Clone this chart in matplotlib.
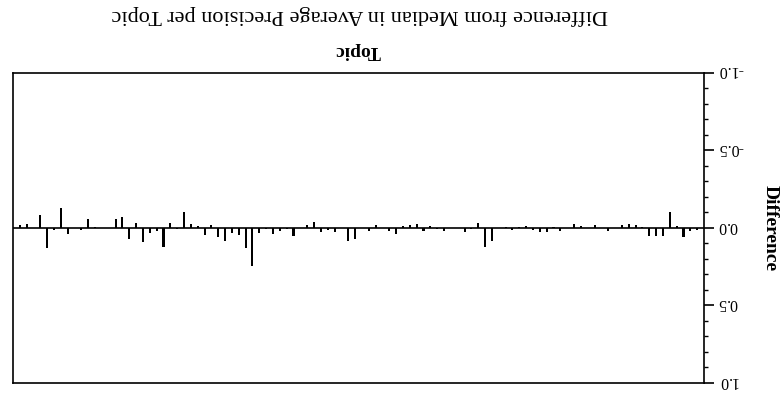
import matplotlib
matplotlib.use("Agg")
import matplotlib.pyplot as plt
from matplotlib.ticker import MultipleLocator, FormatStrFormatter

plt.rcParams["font.family"] = ["Liberation Serif", "DejaVu Serif"]
plt.rcParams["axes.unicode_minus"] = False

# difference from median AP, topics 1..100
topics = list(range(1, 101))
diffs = [
    0.017, 0.022, 0.058, -0.009, -0.103, 0.052, 0.052, 0.052, -0.004, -0.017,
    -0.021, -0.017, 0.0, 0.022, 0.0, -0.017, 0.0, -0.012, -0.026, 0.0,
    0.023, -0.003, 0.030, 0.030, 0.014, -0.009, -0.003, 0.015, -0.004, 0.0,
    0.084, 0.125, -0.029, 0.005, 0.030, 0.0, 0.0, 0.020, 0.009, -0.014,
    0.024, -0.027, -0.018, -0.011, 0.041, 0.019, 0.0, -0.017, 0.019, 0.0,
    0.073, 0.088, 0.0, 0.030, 0.017, 0.028, -0.037, -0.015, 0.0, 0.054,
    0.009, 0.022, 0.041, 0.009, 0.034, 0.245, 0.131, 0.045, 0.037, 0.084,
    0.062, -0.017, 0.045, -0.013, -0.021, -0.103, 0.005, -0.032, 0.123, 0.024,
    0.034, 0.095, -0.032, 0.075, -0.071, -0.058, 0.0, 0.0, -0.005, -0.056,
    0.015, 0.0, 0.041, -0.130, 0.017, 0.131, -0.084, 0.0, -0.022, -0.015,
]

W, H = 782, 401
fig = plt.figure(figsize=(W / 100, H / 100), dpi=100)
# the whole chart is drawn turned by 180 degrees
ax = fig.add_axes([13 / W, (H - 383) / H, (704 - 13) / W, (383 - 72.5) / H])

ax.bar(topics, diffs, width=0.3, color="black")
ax.axhline(0, color="black", lw=1.2)

ax.set_xlim(101, 0)
ax.set_ylim(1, -1)
ax.set_xticks([])
ax.yaxis.tick_right()
ax.yaxis.set_major_locator(MultipleLocator(0.5))
ax.yaxis.set_minor_locator(MultipleLocator(0.1))
ax.yaxis.set_major_formatter(FormatStrFormatter("%.1f"))
ax.tick_params(axis="y", which="major", direction="out", length=7, width=1.2, labelsize=11.5, pad=3)
ax.tick_params(axis="y", which="minor", direction="out", length=3, width=1.0)
for lbl in ax.get_yticklabels():
    lbl.set_rotation(180)
    lbl.set_rotation_mode("anchor")
    lbl.set_horizontalalignment("right")
    lbl.set_verticalalignment("center_baseline")
for sp in ax.spines.values():
    sp.set_linewidth(1.2)

fig.text(770 / W, 1 - 228 / H, "Difference", rotation=270, ha="center", va="center",
         fontsize=14, fontweight="bold")
fig.text(358 / W, 1 - 50 / H, "Topic", rotation=180, ha="center", va="center",
         fontsize=14, fontweight="bold")
fig.text(360 / W, 1 - 15 / H, "Difference from Median in Average Precision per Topic",
         rotation=180, ha="center", va="center", fontsize=16)

fig.savefig("out.png", dpi=100)
